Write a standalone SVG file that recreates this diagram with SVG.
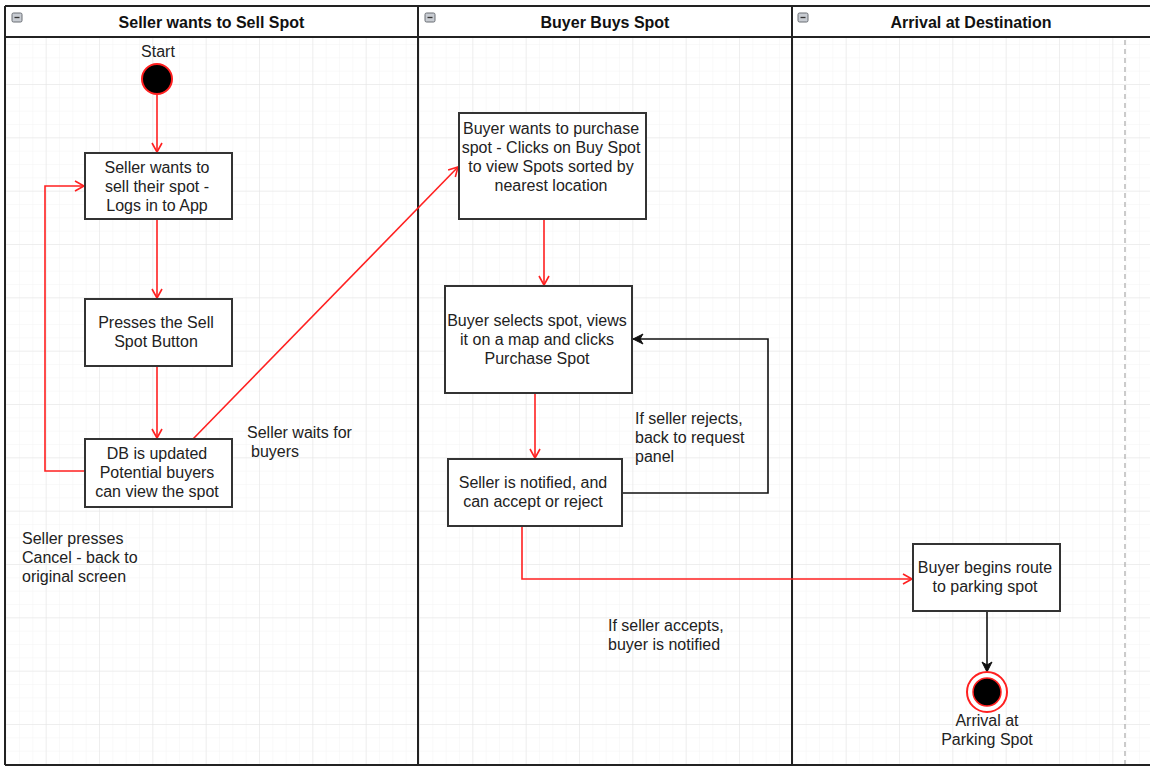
<svg xmlns="http://www.w3.org/2000/svg" width="1150" height="766" viewBox="0 0 1150 766">
<style>
.t{font-family:"Liberation Sans",Arial,sans-serif;font-size:16px;fill:#222}
.c{text-anchor:middle}
.h{font-family:"Liberation Sans",Arial,sans-serif;font-size:16px;font-weight:bold;fill:#111;text-anchor:middle}
.box{fill:#fff;stroke:#333;stroke-width:2}
.red{fill:none;stroke:#ff2020;stroke-width:1.6}
.blk{fill:none;stroke:#111;stroke-width:1.6}
.lane{fill:none;stroke:#222;stroke-width:2}
.icon{fill:#c8ccd2;stroke:#6a6e74;stroke-width:1}
</style>
<defs>
<pattern id="minor" x="45.67" y="30.67" width="13.333" height="13.333" patternUnits="userSpaceOnUse">
<path d="M0,0 H13.333 M0,0 V13.333" fill="none" stroke="#f3f3f3" stroke-width="1"/>
</pattern>
<pattern id="major" x="45.67" y="30.67" width="53.333" height="53.333" patternUnits="userSpaceOnUse">
<path d="M0,0 H53.333 M0,0 V53.333" fill="none" stroke="#e4e4e4" stroke-width="1"/>
</pattern>
<marker id="ar" markerWidth="12" markerHeight="12" refX="10" refY="6" orient="auto" markerUnits="userSpaceOnUse">
<path d="M1,1 L10,6 L1,11" fill="none" stroke="#ff2020" stroke-width="1.6"/>
</marker>
<marker id="ab" markerWidth="12" markerHeight="12" refX="11" refY="6" orient="auto" markerUnits="userSpaceOnUse">
<path d="M1,1 L11,6 L1,11 L4,6 Z" fill="#111" stroke="#111" stroke-width="1"/>
</marker>
</defs>
<rect width="1150" height="766" fill="#fff"/>
<rect x="5" y="37" width="1145" height="728" fill="url(#minor)"/>
<rect x="5" y="37" width="1145" height="728" fill="url(#major)"/>
<line x1="1125" y1="40" x2="1125" y2="765" stroke="#aaa" stroke-width="1.2" stroke-dasharray="5,4"/>

<g id="lanes">
<rect x="5" y="6" width="1146" height="31" fill="#fff"/>
<path class="lane" d="M5,6 H1151 M5,37 H1151 M5,6 V765 M418,6 V766 M792,6 V766 M5,765 H1151"/>
<rect class="icon" x="12" y="13" width="10" height="9" rx="1.5"/>
<line x1="14.5" y1="17.5" x2="19.5" y2="17.5" stroke="#333" stroke-width="1.3"/>
<rect class="icon" x="425" y="13" width="10" height="9" rx="1.5"/>
<line x1="427.5" y1="17.5" x2="432.5" y2="17.5" stroke="#333" stroke-width="1.3"/>
<rect class="icon" x="798" y="13" width="10" height="9" rx="1.5"/>
<line x1="800.5" y1="17.5" x2="805.5" y2="17.5" stroke="#333" stroke-width="1.3"/>
<text class="h" x="211.5" y="28">Seller wants to Sell Spot</text>
<text class="h" x="605" y="28">Buyer Buys Spot</text>
<text class="h" x="971" y="28">Arrival at Destination</text>
</g>

<g id="connectors">
<line class="red" x1="157" y1="95" x2="157" y2="152" marker-end="url(#ar)"/>
<line class="red" x1="157" y1="219" x2="157" y2="298" marker-end="url(#ar)"/>
<line class="red" x1="157" y1="366" x2="157" y2="438" marker-end="url(#ar)"/>
<polyline class="red" points="85,471 45,471 45,186 84,186" marker-end="url(#ar)"/>
<line class="red" x1="193" y1="439" x2="458" y2="167" marker-end="url(#ar)"/>
<line class="red" x1="544" y1="219" x2="544" y2="285" marker-end="url(#ar)"/>
<line class="red" x1="535" y1="393" x2="535" y2="458" marker-end="url(#ar)"/>
<polyline class="blk" points="622,493 768,493 768,339 633,339" marker-end="url(#ab)"/>
<polyline class="red" points="522,526 522,579 912,579" marker-end="url(#ar)"/>
<line class="blk" x1="987" y1="611" x2="987" y2="672" marker-end="url(#ab)"/>
</g>

<g id="start">
<text class="t c" x="158" y="57">Start</text>
<circle cx="157" cy="79" r="15" fill="#000" stroke="#ff2020" stroke-width="2"/>
</g>
<g id="n1">
<rect class="box" x="85" y="153" width="147" height="66"/>
<text class="t c" x="157" y="173">Seller wants to</text>
<text class="t c" x="157" y="192">sell their spot -</text>
<text class="t c" x="157" y="211">Logs in to App</text>
</g>
<g id="n2">
<rect class="box" x="85" y="299" width="147" height="67"/>
<text class="t c" x="156" y="328">Presses the Sell</text>
<text class="t c" x="156" y="347">Spot Button</text>
</g>
<g id="n3">
<rect class="box" x="85" y="439" width="147" height="68"/>
<text class="t c" x="157" y="459">DB is updated</text>
<text class="t c" x="157" y="478">Potential buyers</text>
<text class="t c" x="157" y="497">can view the spot</text>
</g>
<g id="lbl-wait">
<text class="t" x="247" y="438">Seller waits for</text>
<text class="t" x="251" y="457">buyers</text>
</g>
<g id="lbl-cancel">
<text class="t" x="22" y="544">Seller presses</text>
<text class="t" x="22" y="563">Cancel - back to</text>
<text class="t" x="22" y="582">original screen</text>
</g>
<g id="n4">
<rect class="box" x="459" y="113" width="187" height="106"/>
<text class="t c" x="551" y="134">Buyer wants to purchase</text>
<text class="t c" x="551" y="153">spot - Clicks on Buy Spot</text>
<text class="t c" x="551" y="172">to view Spots sorted by</text>
<text class="t c" x="551" y="191">nearest location</text>
</g>
<g id="n5">
<rect class="box" x="445" y="286" width="187" height="107"/>
<text class="t c" x="537" y="326">Buyer selects spot, views</text>
<text class="t c" x="537" y="345">it on a map and clicks</text>
<text class="t c" x="537" y="364">Purchase Spot</text>
</g>
<g id="n6">
<rect class="box" x="448" y="459" width="174" height="67"/>
<text class="t c" x="533" y="488">Seller is notified, and</text>
<text class="t c" x="533" y="507">can accept or reject</text>
</g>
<g id="lbl-reject">
<text class="t" x="635" y="424">If seller rejects,</text>
<text class="t" x="635" y="443">back to request</text>
<text class="t" x="635" y="462">panel</text>
</g>
<g id="lbl-accept">
<text class="t" x="608" y="631">If seller accepts,</text>
<text class="t" x="608" y="650">buyer is notified</text>
</g>
<g id="n7">
<rect class="box" x="913" y="544" width="147" height="67"/>
<text class="t c" x="985" y="573">Buyer begins route</text>
<text class="t c" x="985" y="592">to parking spot</text>
</g>
<g id="end">
<circle cx="987" cy="692" r="20" fill="#fff" stroke="#ff2020" stroke-width="2"/>
<circle cx="987" cy="692" r="14" fill="#000" stroke="#ff2020" stroke-width="1.5"/>
<text class="t c" x="987" y="726">Arrival at</text>
<text class="t c" x="987" y="745">Parking Spot</text>
</g>
</svg>
